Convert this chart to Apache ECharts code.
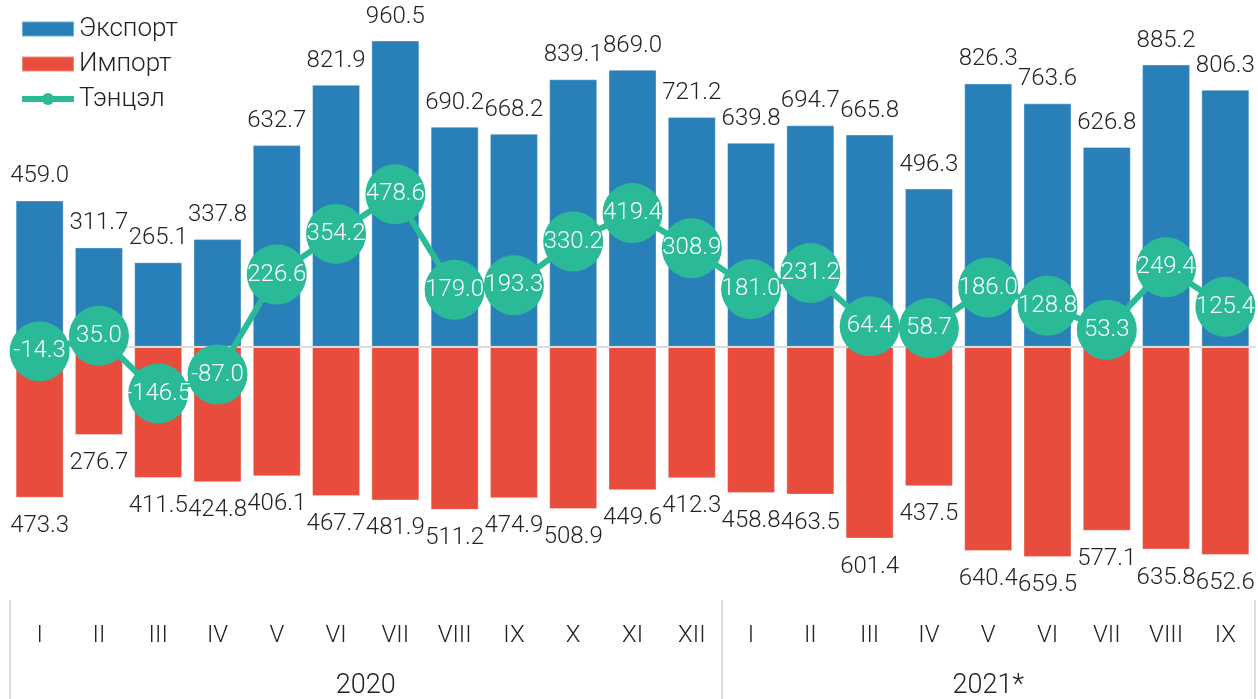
<!DOCTYPE html>
<html>
<head>
<meta charset="utf-8">
<script src="https://cdn.jsdelivr.net/npm/echarts@6/dist/echarts.min.js"></script>
<style>
  html, body { margin: 0; padding: 0; background: #fff; }
  #main { width: 1258px; height: 699px; }
</style>
</head>
<body>
<div id="main"></div>
<script>
// сарууд
var months = ['I', 'II', 'III', 'IV', 'V', 'VI', 'VII', 'VIII', 'IX', 'X', 'XI', 'XII',
  'I', 'II', 'III', 'IV', 'V', 'VI', 'VII', 'VIII', 'IX'];
var years = ['2020', '2021*'];
var yearSpan = [12, 9];
// экспорт, импорт, тэнцэл (сая ам.доллар)
var exportVals = [459.0, 311.7, 265.1, 337.8, 632.7, 821.9, 960.5, 690.2, 668.2, 839.1, 869.0, 721.2,
  639.8, 694.7, 665.8, 496.3, 826.3, 763.6, 626.8, 885.2, 806.3];
var importVals = [473.3, 276.7, 411.5, 424.8, 406.1, 467.7, 481.9, 511.2, 474.9, 508.9, 449.6, 412.3,
  458.8, 463.5, 601.4, 437.5, 640.4, 659.5, 577.1, 635.8, 652.6];
var balanceVals = [-14.3, 35.0, -146.5, -87.0, 226.6, 354.2, 478.6, 179.0, 193.3, 330.2, 419.4, 308.9,
  181.0, 231.2, 64.4, 58.7, 186.0, 128.8, 53.3, 249.4, 125.4];

var font = 'Roboto';
var txt = '#222';
var green = '#2bba97';

// он бүрийн эхлэл (хуваах зураас)
var yearStart = [0];
for (var i = 0; i < yearSpan.length - 1; i++) {
  yearStart.push(yearStart[i] + yearSpan[i]);
}
// оны шошгын байрлал (дунд)
var yearPos = {};
for (var j = 0; j < years.length; j++) {
  yearPos[(yearStart[j] + yearSpan[j] / 2).toFixed(1)] = years[j];
}

var chart = echarts.init(document.getElementById('main'));
var option = {
  animation: false,
  textStyle: { fontFamily: font, fontWeight: 300 },
  legend: {
    orient: 'vertical',
    left: 14,
    top: 11,
    itemWidth: 52,
    itemHeight: 15,
    itemGap: 9,
    lineStyle: { width: 6 },
    textStyle: { fontSize: 26, color: txt, fontFamily: font, fontWeight: 300 },
    data: [
      { name: 'Экспорт', icon: 'rect' },
      { name: 'Импорт', icon: 'rect' },
      { name: 'Тэнцэл' }
    ]
  },
  grid: { left: 10, right: 3, top: 28, bottom: 129, outerBoundsMode: 'none' },
  xAxis: [
    {
      type: 'category',
      data: months,
      z: 3,
      axisLine: { onZero: true, lineStyle: { color: '#dcdcdc', width: 2 } },
      axisTick: { show: false },
      axisLabel: { show: false }
    },
    {
      type: 'category',
      data: months,
      position: 'bottom',
      offset: 30,
      axisLine: { show: false },
      axisTick: {
        show: true,
        length: 100,
        interval: function (idx) { return yearStart.indexOf(idx) >= 0; },
        lineStyle: { color: '#dcdcdc', width: 2 }
      },
      axisLabel: { margin: 24, fontSize: 24, color: txt, fontFamily: font, fontWeight: 300, interval: 0 }
    },
    {
      type: 'value',
      min: 0,
      max: months.length,
      interval: 0.5,
      position: 'bottom',
      offset: 30,
      splitLine: { show: false },
      axisLine: { show: false },
      axisTick: { show: false },
      axisLabel: {
        margin: 73,
        fontSize: 27,
        color: txt,
        fontFamily: font,
        fontWeight: 300,
        formatter: function (v) { return yearPos[v.toFixed(1)] || ''; }
      }
    }
  ],
  yAxis: {
    type: 'value',
    min: -700,
    max: 1000,
    show: false,
    splitLine: { show: false }
  },
  series: [
    {
      name: 'Экспорт',
      type: 'bar',
      data: exportVals,
      barGap: '-100%',
      barCategoryGap: '19%',
      itemStyle: { color: '#2980b9', borderColor: 'rgba(255,255,255,0.35)', borderWidth: 1 },
      label: {
        show: true,
        position: 'top',
        distance: 12,
        fontSize: 24,
        color: txt,
        fontFamily: font,
        fontWeight: 300,
        formatter: function (p) { return p.value.toFixed(1); }
      }
    },
    {
      name: 'Импорт',
      type: 'bar',
      data: importVals.map(function (v) { return -v; }),
      barGap: '-100%',
      barCategoryGap: '19%',
      itemStyle: { color: '#e74c3c', borderColor: 'rgba(255,255,255,0.35)', borderWidth: 1 },
      label: {
        show: true,
        position: 'bottom',
        distance: 16,
        fontSize: 24,
        color: txt,
        fontFamily: font,
        fontWeight: 300,
        formatter: function (p) { return Math.abs(p.value).toFixed(1); }
      }
    },
    {
      name: 'Тэнцэл',
      type: 'line',
      data: balanceVals,
      z: 5,
      symbol: 'circle',
      symbolSize: 60,
      showAllSymbol: true,
      lineStyle: { color: green, width: 6 },
      itemStyle: { color: green },
      label: {
        show: true,
        position: 'inside',
        fontSize: 24,
        color: '#fff',
        fontFamily: font,
        fontWeight: 300,
        formatter: function (p) { return p.value.toFixed(1); }
      }
    }
  ]
};
chart.setOption(option);
</script>
</body>
</html>
